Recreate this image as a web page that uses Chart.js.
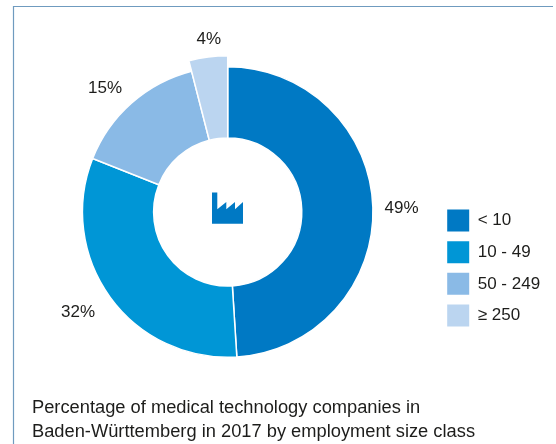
<!DOCTYPE html>
<html><head><meta charset="utf-8">
<style>html,body{margin:0;padding:0;background:#fff}#w{position:relative;width:556px;height:444px;overflow:hidden}canvas{display:block}</style>
<script src="https://cdn.jsdelivr.net/npm/chart.js@4/dist/chart.umd.min.js"></script>
</head><body><div id="w"><canvas id="c" width="556" height="444"></canvas></div>
<script>
const categories = ['< 10', '10 - 49', '50 - 249', '≥ 250'];
const shares = [49, 32, 15, 4];
const sliceColors = ['#0079c4', '#0096d6', '#8abae6', '#bbd5f0'];
const captionLines = ['Percentage of medical technology companies in', 'Baden-Württemberg in 2017 by employment size class'];
const FONT = '"Liberation Sans", Arial, sans-serif';
const INK = '#1d1d1b';

const custom = {
  id: 'custom',
  afterLayout(chart) {
    const l = chart.legend;
    const dy = 122 - l.top, dx = 437.5 - l.left;
    l.top += dy; l.bottom += dy; l.left += dx; l.right += dx;
  },
  afterDatasetsUpdate(chart) {
    const arcs = chart.getDatasetMeta(0).data;
    arcs[3].outerRadius += 11;
  },
  beforeDraw(chart) {
    const c = chart.ctx;
    c.save();
    c.strokeStyle = '#6f9bbf';
    c.lineWidth = 1.2;
    c.beginPath();
    c.moveTo(13.5, 444); c.lineTo(13.5, 6.5); c.lineTo(553, 6.5);
    c.stroke();
    c.restore();
  },
  afterDraw(chart) {
    const c = chart.ctx;
    const arcs = chart.getDatasetMeta(0).data;
    const tweak = [[-1, 2], [-8, -3], [-7, 8], [3, 1]];
    c.save();
    c.fillStyle = INK;
    c.font = '17px ' + FONT;
    c.textAlign = 'center';
    c.textBaseline = 'middle';
    arcs.forEach((a, i) => {
      const m = (a.startAngle + a.endAngle) / 2;
      const x = a.x + Math.cos(m) * 175 + tweak[i][0];
      const y = a.y + Math.sin(m) * 175 + tweak[i][1];
      c.fillText(shares[i] + '%', x, y);
    });
    c.font = '18.3px ' + FONT;
    c.textAlign = 'left';
    c.textBaseline = 'alphabetic';
    captionLines.forEach((t, i) => c.fillText(t, 32, 413 + i * 24));
    // factory icon
    c.fillStyle = sliceColors[0];
    c.beginPath();
    [[212,192.5],[217.3,192.5],[217.3,209.3],[226.3,202],[226.3,209.3],[235,202],[235,209.3],[243,202],[243,223.7],[212,223.7]]
      .forEach((p, i) => i ? c.lineTo(p[0], p[1]) : c.moveTo(p[0], p[1]));
    c.closePath();
    c.fill();
    c.restore();
  }
};

new Chart(document.getElementById('c'), {
  type: 'doughnut',
  data: { labels: categories, datasets: [{ data: shares, backgroundColor: sliceColors, borderColor: '#fff', borderWidth: 1.5 }] },
  options: {
    responsive: false,
    animation: false,
    cutout: '51%',
    layout: { padding: { left: 17, right: 5, top: 66, bottom: 86 } },
    plugins: {
      tooltip: { enabled: false },
      legend: {
        position: 'right',
        labels: {
          boxWidth: 22, boxHeight: 22, padding: 9.7,
          color: INK,
          font: { family: FONT, size: 17 },
          generateLabels: (chart) => categories.map((t, i) => ({
            text: t, fillStyle: sliceColors[i], strokeStyle: sliceColors[i], lineWidth: 0, index: i, fontColor: INK
          }))
        }
      }
    }
  },
  plugins: [custom]
});
</script></body></html>
